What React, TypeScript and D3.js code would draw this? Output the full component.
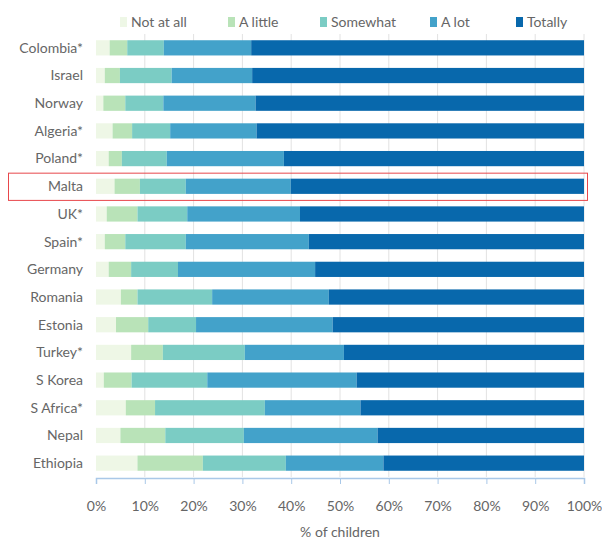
import * as React from 'react';
import * as d3 from 'd3';

const countries = ['Colombia*', 'Israel', 'Norway', 'Algeria*', 'Poland*', 'Malta', 'UK*', 'Spain*', 'Germany', 'Romania', 'Estonia', 'Turkey*', 'S Korea', 'S Africa*', 'Nepal', 'Ethiopia'];
const categories = ['Not at all', 'A little', 'Somewhat', 'A lot', 'Totally'];
const colors = ['#eef7e6', '#b9e3b8', '#7bccc4', '#43a2ca', '#0868ac'];

// % of children per answer, same order as countries
const notAtAll = [2.8, 1.8, 1.5, 3.4, 2.6, 3.8, 2.2, 1.8, 2.6, 5.1, 4.1, 7.2, 1.6, 6.1, 5.0, 8.5];
const aLittle = [3.6, 3.1, 4.5, 4.0, 2.7, 5.2, 6.3, 4.2, 4.6, 3.4, 6.6, 6.5, 5.7, 6.0, 9.2, 13.4];
const somewhat = [7.5, 10.6, 7.8, 7.8, 9.2, 9.4, 10.2, 12.4, 9.6, 15.3, 9.8, 16.8, 15.5, 22.5, 16.1, 17.0];
const aLot = [17.9, 16.5, 18.9, 17.7, 24.0, 21.5, 23.1, 25.2, 28.1, 23.9, 28.0, 20.3, 30.6, 19.6, 27.4, 20.0];
const totally = [68.2, 68.0, 67.3, 67.1, 61.5, 60.1, 58.2, 56.4, 55.1, 52.3, 51.5, 49.2, 46.6, 45.8, 42.3, 41.1];

const highlighted = 'Malta';
const xTicks = [0, 10, 20, 30, 40, 50, 60, 70, 80, 90, 100];

class App extends React.Component {
  private element;

  componentDidMount() {
    this.draw();
  }

  draw() {
    const width = 602;
    const height = 540;
    const margin = {top: 34, right: 18, bottom: 63, left: 96};
    const font = 'Lato, "Open Sans", sans-serif';
    const textColor = '#666666';

    const svg = d3.select(this.element)
      .attr('width', width)
      .attr('height', height)
      .style('position', 'absolute')
      .style('left', '0px')
      .style('top', '0px')
      .style('font-family', font);
    svg.selectAll('*').remove();

    const rows = countries.map((c, i) => ({
      country: c,
      values: [notAtAll[i], aLittle[i], somewhat[i], aLot[i], totally[i]],
    }));

    const x = d3.scaleLinear().domain([0, 100]).range([margin.left, width - margin.right]);
    const y = d3.scaleBand().domain(countries)
      .range([margin.top, height - margin.bottom])
      .paddingInner(0.45).paddingOuter(0.225);
    const bottom = height - margin.bottom;

    // grid
    svg.append('g').selectAll('line')
      .data(xTicks.slice(1))
      .enter().append('line')
      .attr('x1', (d) => x(d)).attr('x2', (d) => x(d))
      .attr('y1', margin.top).attr('y2', bottom)
      .attr('stroke', '#e2e2e2').attr('stroke-width', 1);

    // stacked bars
    const stack = d3.stack()
      .keys(d3.range(categories.length).map(String))
      .value((d: any, k) => d.values[+k]);
    const series = stack(rows as any);

    svg.append('g').selectAll('g')
      .data(series)
      .enter().append('g')
      .attr('fill', (d, i) => colors[i])
      .selectAll('rect')
      .data((d) => d)
      .enter().append('rect')
      .attr('x', (d: any) => x(d[0]))
      .attr('width', (d: any) => Math.max(0, x(Math.min(d[1], 100)) - x(d[0])))
      .attr('y', (d: any) => y(d.data.country))
      .attr('height', y.bandwidth());

    // country labels
    svg.append('g').selectAll('text')
      .data(countries)
      .enter().append('text')
      .attr('x', margin.left - 13)
      .attr('y', (d) => y(d) + y.bandwidth() / 2)
      .attr('dy', '0.35em')
      .attr('text-anchor', 'end')
      .attr('font-size', '14px')
      .attr('fill', textColor)
      .text((d) => d);

    // x axis
    const xAxis = d3.axisBottom(x)
      .tickValues(xTicks)
      .tickSize(6)
      .tickPadding(17)
      .tickFormat((d: any) => `${d}%`);
    const axisGroup = svg.append('g')
      .attr('transform', `translate(0, ${bottom + 1})`)
      .call(xAxis);
    axisGroup.select('.domain').attr('stroke', '#a9c8e8').attr('stroke-width', 1.5);
    axisGroup.selectAll('.tick line').attr('stroke', '#a9c8e8');
    axisGroup.selectAll('.tick text')
      .attr('font-family', font)
      .attr('font-size', '14px')
      .attr('fill', textColor);

    svg.append('text')
      .attr('x', (x(0) + x(100)) / 2)
      .attr('y', 537)
      .attr('text-anchor', 'middle')
      .attr('font-size', '14px')
      .attr('fill', textColor)
      .text('% of children');

    // legend
    const legendX = [120, 228, 320, 430, 516];
    const legend = svg.append('g').selectAll('g')
      .data(categories)
      .enter().append('g')
      .attr('transform', (d, i) => `translate(${legendX[i]}, 22)`);
    legend.append('rect')
      .attr('x', 0).attr('y', -5)
      .attr('width', 7).attr('height', 10)
      .attr('fill', (d, i) => colors[i]);
    legend.append('text')
      .attr('x', 11)
      .attr('dy', '0.35em')
      .attr('font-size', '14px')
      .attr('fill', textColor)
      .text((d) => d);

    // highlight box
    const yh = y(highlighted);
    svg.append('rect')
      .attr('x', 8.5)
      .attr('y', yh - 5.5)
      .attr('width', 579)
      .attr('height', y.bandwidth() + 12)
      .attr('fill', 'none')
      .attr('stroke', '#e8474b')
      .attr('stroke-width', 1);
  }

  render() {
    return <svg ref={(ref) => (this.element = ref)} />;
  }
}

export default App;
